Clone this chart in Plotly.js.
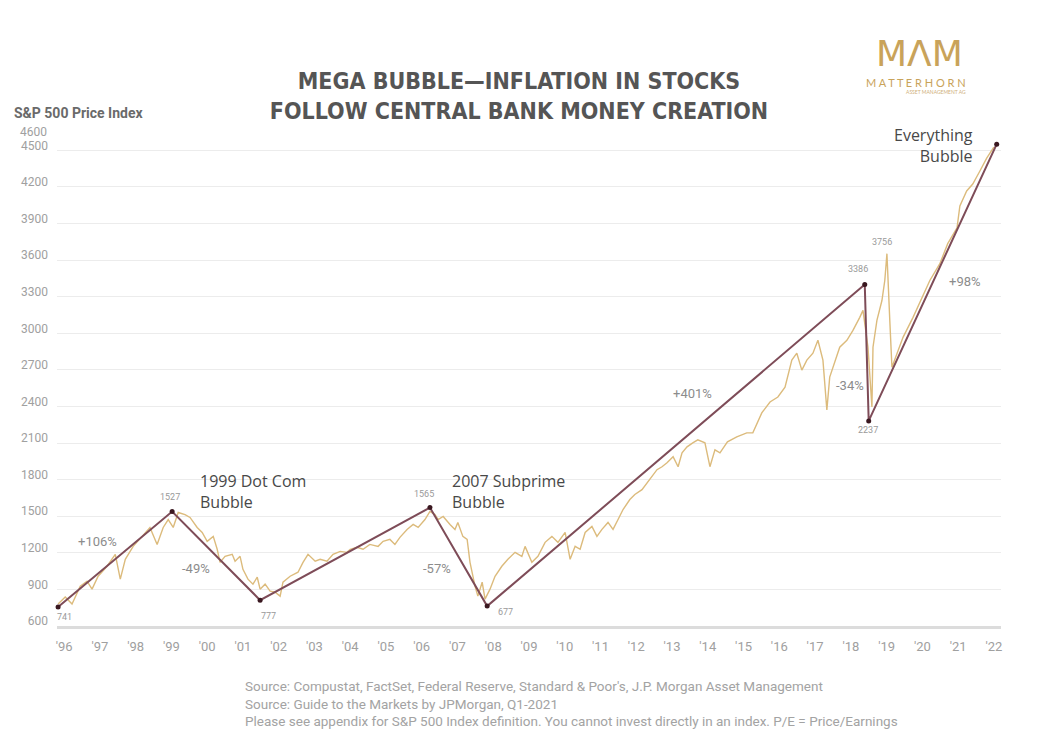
<!DOCTYPE html>
<html>
<head>
<meta charset="utf-8">
<script src="https://cdn.plot.ly/plotly-3.0.1.min.js"></script>
<style>html,body{margin:0;padding:0;background:#fff;}#chart{width:1038px;height:731px;}</style>
</head>
<body>
<div id="chart"></div>
<script>
// S&P 500 path as drawn (axis position in years, index level)
const spxYears = [1995.83,1996.03,1996.22,1996.45,1996.64,1996.78,1996.95,1997.20,1997.43,1997.57,1997.71,1997.93,1998.18,1998.40,1998.60,1998.77,1998.91,1999.05,1999.19,1999.38,1999.52,1999.72,1999.86,2000.00,2000.17,2000.28,2000.36,2000.50,2000.70,2000.78,2000.92,2001.00,2001.14,2001.28,2001.40,2001.48,2001.62,2001.76,2001.90,2002.04,2002.12,2002.32,2002.54,2002.68,2002.82,2003.02,2003.16,2003.35,2003.52,2003.72,2003.91,2004.00,2004.19,2004.36,2004.55,2004.78,2004.92,2005.11,2005.25,2005.39,2005.59,2005.76,2005.90,2006.09,2006.23,2006.37,2006.46,2006.60,2006.79,2006.93,2007.01,2007.15,2007.27,2007.35,2007.49,2007.57,2007.69,2007.77,2007.91,2008.05,2008.24,2008.41,2008.61,2008.80,2008.89,2009.08,2009.25,2009.45,2009.64,2009.81,2010.01,2010.15,2010.29,2010.43,2010.57,2010.76,2010.90,2011.04,2011.21,2011.35,2011.49,2011.63,2011.82,2011.96,2012.16,2012.30,2012.44,2012.58,2012.72,2012.86,2013.03,2013.17,2013.28,2013.42,2013.58,2013.72,2013.92,2014.06,2014.20,2014.34,2014.55,2014.81,2015.09,2015.26,2015.51,2015.74,2015.96,2016.16,2016.35,2016.49,2016.63,2016.77,2016.94,2017.08,2017.22,2017.33,2017.41,2017.55,2017.69,2017.89,2018.06,2018.25,2018.34,2018.48,2018.53,2018.59,2018.62,2018.73,2018.87,2018.95,2019.01,2019.04,2019.09,2019.15,2019.29,2019.46,2019.74,2019.99,2020.21,2020.49,2020.71,2020.97,2021.05,2021.24,2021.41,2021.61,2021.80,2022.00];
const spxLevels = [780,837,780,927,967,902,1008,1090,1188,984,1147,1253,1335,1408,1269,1408,1473,1408,1531,1514,1490,1408,1367,1294,1335,1229,1122,1171,1188,1131,1171,1065,984,943,1000,902,943,886,878,845,959,1008,1041,1122,1188,1131,1147,1131,1188,1212,1204,1229,1245,1229,1269,1253,1294,1310,1269,1327,1392,1433,1408,1473,1539,1514,1473,1498,1433,1392,1449,1335,1310,1122,927,845,959,820,902,1008,1090,1147,1204,1171,1253,1122,1171,1286,1335,1286,1367,1147,1253,1229,1367,1416,1335,1392,1449,1392,1473,1555,1637,1678,1718,1776,1824,1882,1906,1939,1988,1906,2020,2069,2102,2126,2102,1906,2045,2020,2110,2151,2184,2184,2347,2437,2478,2559,2780,2837,2698,2780,2837,2943,2780,2371,2641,2755,2886,2943,3024,3131,3188,2886,2641,2396,2886,3106,3269,3433,3653,3376,3106,2722,2837,2967,3131,3294,3433,3571,3735,3865,4045,4167,4224,4331,4437,4527];

// Peak / trough pivots of the bubble overlay
const pivotYears  = [1995.83, 1999.02, 2001.48, 2006.23, 2007.83, 2018.39, 2018.50, 2022.08];
const pivotLevels = [755, 1539, 812, 1571, 763, 3400, 2282, 4551];
const pivotLabels = ['741', '1527', '777', '1565', '677', '3386', '2237', ''];
const peakLabelYear = 2019.01, peakLabelLevel = 3653, peakLabelText = '3756';

// Move labels
const moveLabels = ['+106%', '-49%', '-57%', '+401%', '-34%', '+98%'];
const eventLabels = ['1999 Dot Com<br>Bubble', '2007 Subprime<br>Bubble', 'Everything<br>Bubble'];

// Axis ticks
const xTickVals = [];
const xTickText = ["'96","'97","'98","'99","'00","'01","'02","'03","'04","'05","'06","'07","'08","'09","'10","'11","'12","'13","'14","'15","'16","'17","'18","'19","'20","'21","'22"];
for (let i = 0; i < xTickText.length; i++) xTickVals.push(1996 + i);
const yTickVals = [600, 900, 1200, 1500, 1800, 2100, 2400, 2700, 3000, 3300, 3600, 3900, 4200, 4500];

const GOLD = '#dcbb7c';
const BROWN = '#7e4c58';
const labelFont = {family: 'Roboto, "Open Sans", sans-serif', size: 13, color: '#8c8c8c'};
const smallFont = {family: 'Roboto, sans-serif', size: 9, color: '#9a9a9a'};
const eventFont = {family: '"Open Sans", Roboto, sans-serif', size: 16, color: '#484848'};

const traces = [
  {x: spxYears, y: spxLevels, type: 'scatter', mode: 'lines',
   line: {color: GOLD, width: 1.4}, hoverinfo: 'skip'},
  {x: pivotYears, y: pivotLevels, type: 'scatter', mode: 'lines+markers',
   line: {color: BROWN, width: 2}, marker: {color: '#3a1820', size: 5},
   cliponaxis: false, hoverinfo: 'skip'}
];

const annotations = [];
// pivot value labels
const pivotShift = [-10, 14, -16, 14, -6, 16, -9, 0];
const pivotXShift = [6, -2, 8, -6, 18, -7, -1, 0];
pivotLabels.forEach((t, i) => {
  if (!t) return;
  annotations.push({x: pivotYears[i], y: pivotLevels[i], text: t, showarrow: false,
    font: smallFont, yshift: pivotShift[i], xshift: pivotXShift[i]});
});
annotations.push({x: peakLabelYear, y: peakLabelLevel, text: peakLabelText, showarrow: false,
  font: smallFont, yshift: 12, xshift: -5});

// move percentages
const moveX = [1996.92, 1999.69, 2006.43, 2013.56, 2017.97, 2021.19];
const moveY = [1289, 1075, 1075, 2510, 2575, 3428];
moveLabels.forEach((t, i) => {
  annotations.push({x: moveX[i], y: moveY[i], text: t, showarrow: false, font: labelFont});
});

// event labels
annotations.push({x: 1999.75, y: 1707, text: eventLabels[0], showarrow: false, xanchor: 'left', align: 'left', font: eventFont});
annotations.push({x: 2006.79, y: 1707, text: eventLabels[1], showarrow: false, xanchor: 'left', align: 'left', font: eventFont});
annotations.push({x: 2021.47, y: 4543, text: eventLabels[2], showarrow: false, xanchor: 'right', align: 'right', font: eventFont});

// 4600 stacked tick label
annotations.push({xref: 'paper', yref: 'y', x: 0, y: 4600, text: '4600', showarrow: false,
  xanchor: 'right', xshift: -8, yshift: 6, font: {family: 'Roboto, sans-serif', size: 12, color: '#a0a0a0'}});

// y-axis heading
annotations.push({xref: 'paper', yref: 'paper', x: -0.048, y: 1.046, text: '<b>S&amp;P 500 Price Index</b>',
  showarrow: false, xanchor: 'left', font: {family: 'Roboto, sans-serif', size: 14, color: '#6a6a6a'}});

// logo
annotations.push({xref: 'paper', yref: 'paper', x: 0.962, y: 1.19, text: 'MΛM', showarrow: false,
  font: {family: '"DejaVu Sans", sans-serif', size: 36, color: '#c9a35a'}});
annotations.push({xref: 'paper', yref: 'paper', x: 0.965, y: 1.104, text: 'M A T T E R H O R N', showarrow: false,
  font: {family: 'Lato, sans-serif', size: 11, color: '#c9a35a'}});
annotations.push({xref: 'paper', yref: 'paper', x: 0.965, y: 1.078, text: 'ASSET MANAGEMENT AG', showarrow: false,
  font: {family: 'Lato, sans-serif', size: 5, color: '#cfb07a'}});

// footer
annotations.push({xref: 'paper', yref: 'paper', x: 0.197, y: -0.1, yanchor: 'top', xanchor: 'left', align: 'left',
  showarrow: false,
  text: "Source: Compustat, FactSet, Federal Reserve, Standard &amp; Poor's, J.P. Morgan Asset Management<br>Source: Guide to the Markets by JPMorgan, Q1-2021<br>Please see appendix for S&amp;P 500 Index definition. You cannot invest directly in an index. P/E = Price/Earnings",
  font: {family: 'Roboto, sans-serif', size: 13.5, color: '#a3a3a3'}});

const layout = {
  width: 1038, height: 731,
  paper_bgcolor: '#ffffff', plot_bgcolor: '#ffffff',
  margin: {l: 57, r: 37, t: 126, b: 105},
  showlegend: false,
  title: {
    text: '<b>MEGA BUBBLE—INFLATION IN STOCKS<br>FOLLOW CENTRAL BANK MONEY CREATION</b>',
    x: 0.5, xanchor: 'center', y: 0.878, yanchor: 'middle', yref: 'container',
    font: {family: '"Liberation Sans Narrow", "DejaVu Sans Condensed", Roboto, sans-serif', size: 23, color: '#555555'}
  },
  xaxis: {
    range: [1995.8, 2022.2], tickmode: 'array', tickvals: xTickVals, ticktext: xTickText,
    showgrid: false, zeroline: false, showline: true, linecolor: '#dcdcdc', linewidth: 3,
    ticks: '', tickfont: {family: 'Roboto, sans-serif', size: 13, color: '#a0a0a0'}, ticklabelstandoff: 6
  },
  yaxis: {
    range: [600, 4700], tickmode: 'array', tickvals: yTickVals,
    showgrid: true, gridcolor: '#ececec', gridwidth: 1, zeroline: false, showline: false,
    ticks: '', tickfont: {family: 'Roboto, sans-serif', size: 12, color: '#a0a0a0'}, ticklabelstandoff: 8,
    ticklabelshift: -5
  },
  annotations: annotations
};

Plotly.newPlot('chart', traces, layout, {staticPlot: true, displayModeBar: false});
</script>
</body>
</html>
